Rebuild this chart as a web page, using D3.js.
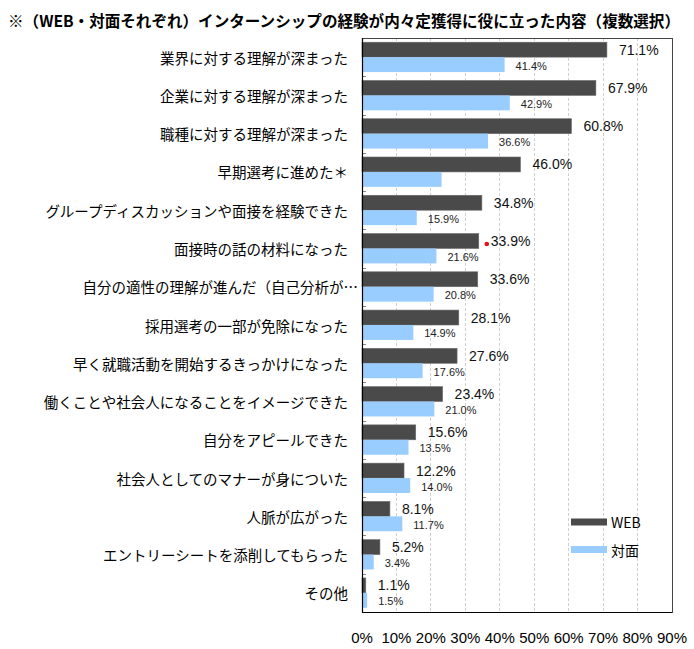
<!DOCTYPE html>
<html>
<head>
<meta charset="utf-8">
<script src="https://cdn.jsdelivr.net/npm/d3@7"></script>
<style>
  html, body { margin: 0; padding: 0; background: #fff; }
  svg { display: block; }
</style>
</head>
<body>
<svg id="chart" width="694" height="649"></svg>
<script>
// ---- data ----
const titleText = "※（WEB・対面それぞれ）インターンシップの経験が内々定獲得に役に立った内容（複数選択）";
const categories = [
  "業界に対する理解が深まった",
  "企業に対する理解が深まった",
  "職種に対する理解が深まった",
  "早期選考に進めた＊",
  "グループディスカッションや面接を経験できた",
  "面接時の話の材料になった",
  "自分の適性の理解が進んだ（自己分析が…",
  "採用選考の一部が免除になった",
  "早く就職活動を開始するきっかけになった",
  "働くことや社会人になることをイメージできた",
  "自分をアピールできた",
  "社会人としてのマナーが身についた",
  "人脈が広がった",
  "エントリーシートを添削してもらった",
  "その他"
];
const seriesNames = ["WEB", "対面"];
const webValues  = [71.1, 67.9, 60.8, 46.0, 34.8, 33.9, 33.6, 28.1, 27.6, 23.4, 15.6, 12.2, 8.1, 5.2, 1.1];
const faceValues = [41.4, 42.9, 36.6, 23.1, 15.9, 21.6, 20.8, 14.9, 17.6, 21.0, 13.5, 14.0, 11.7, 3.4, 1.5];
const faceLabelShown = [true, true, true, false, true, true, true, true, true, true, true, true, true, true, true];
const xTicks = [0, 10, 20, 30, 40, 50, 60, 70, 80, 90];
const markedCategory = "面接時の話の材料になった";

// ---- layout ----
const svg = d3.select("#chart");
const plot = { left: 362, right: 672, top: 38, bottom: 612 };
const colors = { "WEB": "#4a4a4a", "対面": "#99ccff" };
const jpFont = "'Noto Sans CJK JP', sans-serif";
const numFont = "'Liberation Sans', Arial, sans-serif";

const x = d3.scaleLinear().domain([0, 90]).range([plot.left, plot.right]);
const y = d3.scaleBand().domain(categories).range([plot.top, plot.bottom])
  .paddingInner(0.22).paddingOuter(0.11);
const ys = d3.scaleBand().domain(seriesNames).range([0, y.bandwidth()]);

// title
svg.append("text")
  .attr("x", 8).attr("y", 20)
  .attr("dominant-baseline", "central")
  .attr("font-family", jpFont).attr("font-size", 15.5).attr("font-weight", "bold")
  .attr("textLength", 672).attr("lengthAdjust", "spacingAndGlyphs")
  .attr("fill", "#000")
  .text(titleText);

// gridlines
svg.append("g").selectAll("line")
  .data(xTicks.filter(t => t > 0 && t < 90))
  .join("line")
  .attr("x1", d => x(d)).attr("x2", d => x(d))
  .attr("y1", plot.top).attr("y2", plot.bottom)
  .attr("stroke", "#cfcfcf").attr("stroke-width", 1)
  .attr("stroke-dasharray", "3,2")
  .attr("shape-rendering", "crispEdges");

// frame
svg.append("rect")
  .attr("x", plot.left).attr("y", plot.top)
  .attr("width", plot.right - plot.left).attr("height", plot.bottom - plot.top)
  .attr("fill", "none").attr("stroke", "#444").attr("stroke-width", 1)
  .attr("shape-rendering", "crispEdges");

const rows = categories.map((c, i) => ({
  cat: c, web: webValues[i], face: faceValues[i], showFace: faceLabelShown[i]
}));

// bars
const g = svg.append("g");
const rowG = g.selectAll("g.row").data(rows).join("g")
  .attr("class", "row")
  .attr("transform", d => `translate(0,${y(d.cat)})`);

rowG.append("rect")
  .attr("x", x(0)).attr("y", ys("WEB"))
  .attr("width", d => x(d.web) - x(0)).attr("height", ys.bandwidth())
  .attr("fill", colors["WEB"]).attr("stroke", "#6a6a6a").attr("stroke-width", 0.6);

rowG.append("rect")
  .attr("x", x(0)).attr("y", ys("対面"))
  .attr("width", d => x(d.face) - x(0)).attr("height", ys.bandwidth())
  .attr("fill", colors["対面"]);

// value labels
rowG.append("text")
  .attr("x", d => x(d.web) + 12)
  .attr("y", ys("WEB") + ys.bandwidth() / 2)
  .attr("dominant-baseline", "central")
  .attr("font-family", numFont).attr("font-size", 14).attr("fill", "#111")
  .text(d => d.web.toFixed(1) + "%");

rowG.filter(d => d.showFace).append("text")
  .attr("x", d => x(d.face) + 11)
  .attr("y", ys("対面") + ys.bandwidth() / 2 + 1)
  .attr("dominant-baseline", "central")
  .attr("font-family", numFont).attr("font-size", 11).attr("fill", "#222")
  .text(d => d.face.toFixed(1) + "%");

// red marker next to one label
rowG.filter(d => d.cat === markedCategory).append("circle")
  .attr("cx", d => x(d.web) + 8)
  .attr("cy", ys("WEB") + ys.bandwidth() / 2 + 3)
  .attr("r", 2.3).attr("fill", "#e8101a");

// category labels
svg.append("g").selectAll("text").data(categories).join("text")
  .attr("x", plot.left - 14)
  .attr("dx", d => d.endsWith("…") ? 10 : 0)
  .attr("y", d => y(d) + y.bandwidth() / 2)
  .attr("text-anchor", "end")
  .attr("dominant-baseline", "central")
  .attr("font-family", jpFont).attr("font-size", 14.5).attr("fill", "#000")
  .text(d => d);

// y inner ticks at band boundaries
const step = y.step();
svg.append("g").selectAll("line").data(categories.slice(0, -1)).join("line")
  .attr("x1", plot.left).attr("x2", plot.left + 4)
  .attr("y1", d => Math.round(y(d) + y.bandwidth() + (step - y.bandwidth()) / 2) + 0.5)
  .attr("y2", d => Math.round(y(d) + y.bandwidth() + (step - y.bandwidth()) / 2) + 0.5)
  .attr("stroke", "#888").attr("stroke-width", 1);

// left and bottom axis lines
svg.append("line")
  .attr("x1", plot.left + 0.5).attr("x2", plot.left + 0.5)
  .attr("y1", plot.top).attr("y2", plot.bottom + 0.5)
  .attr("stroke", "#000").attr("stroke-width", 1.2);
svg.append("line")
  .attr("x1", plot.left).attr("x2", plot.right)
  .attr("y1", plot.bottom + 0.5).attr("y2", plot.bottom + 0.5)
  .attr("stroke", "#000").attr("stroke-width", 1.2);

// x tick labels
svg.append("g").selectAll("text").data(xTicks).join("text")
  .attr("x", d => x(d))
  .attr("y", 637)
  .attr("text-anchor", "middle")
  .attr("dominant-baseline", "central")
  .attr("font-family", numFont).attr("font-size", 15).attr("fill", "#000")
  .text(d => d + "%");

// legend
const legend = svg.append("g").attr("transform", "translate(571,522)");
const li = legend.selectAll("g").data(seriesNames).join("g")
  .attr("transform", (d, i) => `translate(0,${i * 27.5})`);
li.append("rect")
  .attr("x", 0).attr("y", -3.5).attr("width", 36).attr("height", 7)
  .attr("fill", d => colors[d]);
li.append("text")
  .attr("x", 40).attr("y", 0)
  .attr("dominant-baseline", "central")
  .attr("font-family", jpFont).attr("font-size", 14).attr("fill", "#000")
  .text(d => d);
</script>
</body>
</html>
